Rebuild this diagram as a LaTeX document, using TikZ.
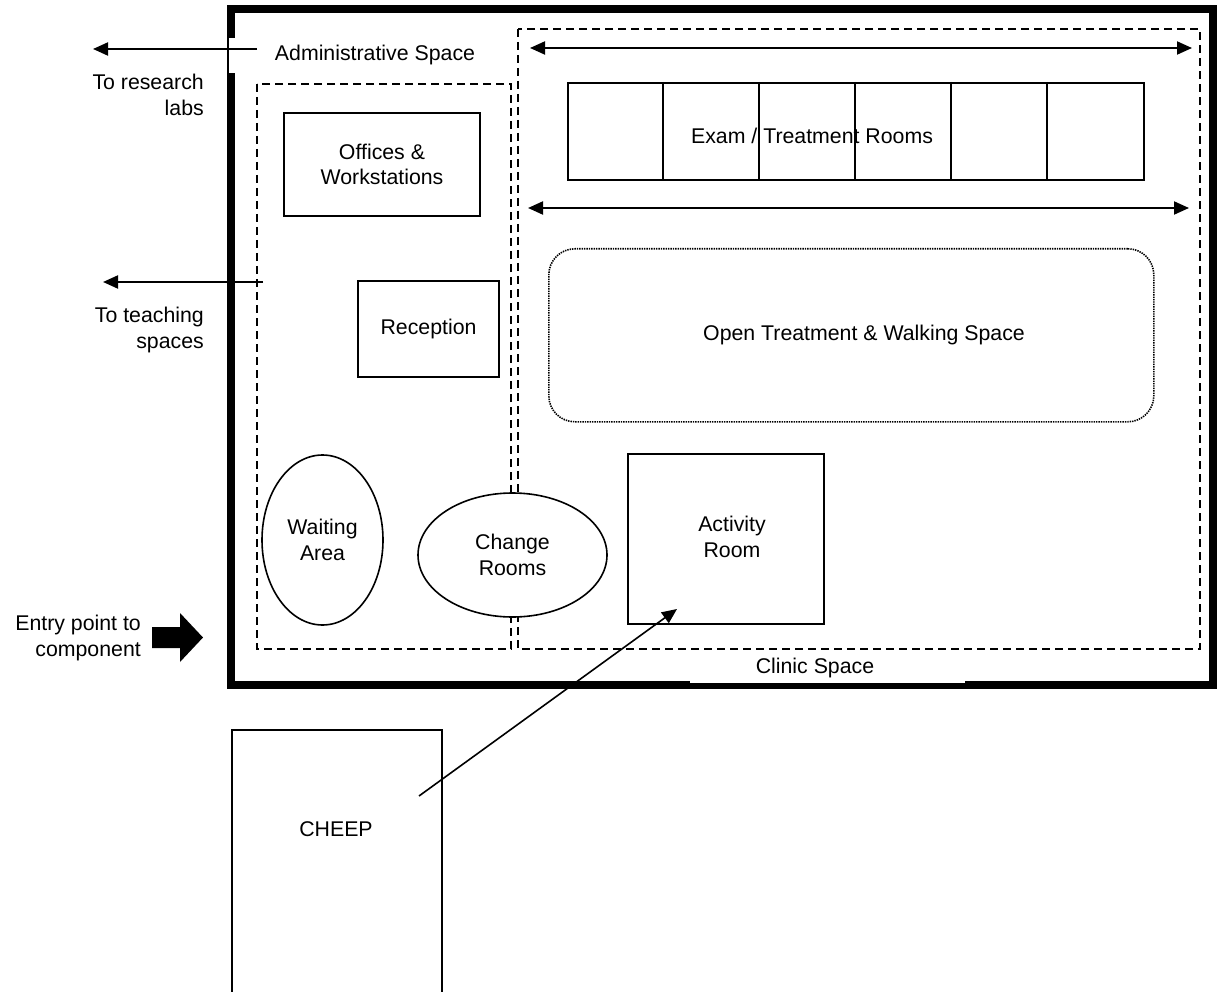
\documentclass[tikz,border=0pt]{standalone}
\usepackage{fontspec}
\setmainfont{Liberation Sans}
\usetikzlibrary{arrows.meta,shapes.geometric}
\begin{document}
\begin{tikzpicture}[x=1pt,y=-1pt,
  font=\fontsize{21.3}{25.5}\selectfont,
  box/.style={draw, line width=2pt, inner sep=0pt, anchor=north west, align=center},
  dsh/.style={draw, line width=1.8pt, dash pattern=on 8pt off 5pt},
  arr/.style={line width=2pt, -{Triangle[length=15pt,width=13pt]}},
  darr/.style={line width=2pt, {Triangle[length=15pt,width=13pt]}-{Triangle[length=15pt,width=13pt]}},
  lbl/.style={align=center, inner sep=0pt},
  rlbl/.style={align=right, inner sep=0pt, anchor=east},
  oval/.style={draw, ellipse, line width=1.6pt, fill=white, inner sep=0pt, align=center}]
\useasboundingbox (0,0) rectangle (1220,992);
% outer frame
\draw[line width=7.6pt] (230.8,9) rectangle (1213,685) ;
\fill[white] (228.6,38) rectangle (480,73);
\fill[white] (690,652) rectangle (965,682.5);
\node[lbl] (admin) at (375,55) {Administrative Space};
\node[lbl] (clinic) at (815,668) {Clinic Space};
% dashed zones
\draw[dsh] (257,84) rectangle (511,649);
\draw[dsh] (518,29) rectangle (1200,649);
% admin rooms
\node[box, minimum width=196pt, minimum height=103pt] (off) at (283,112) {Offices \&\\Workstations};
\node[box, minimum width=141pt, minimum height=96pt] (rec) at (357,280) {Reception};
\node[oval, minimum width=121pt, minimum height=170pt] (wait) at (322.5,540) {Waiting\\Area};
\node[oval, minimum width=189pt, minimum height=124pt] (change) at (512.5,555) {Change\\Rooms};
% exam rooms
\node[box, minimum width=576pt, minimum height=97pt] (exam) at (567,82) {};
\foreach \xx in {663,759,855,951,1047} \draw[line width=2pt] (\xx,82) -- (\xx,179);
\node[lbl] (examlbl) at (812,136) {Exam / Treatment Rooms};
% corridor arrows
\coordinate (ta) at (530,48);
\coordinate (tb) at (1192,48);
\coordinate (ba) at (528,208);
\coordinate (bb) at (1189,208);
\draw[darr] (ta) -- (tb);
\draw[darr] (ba) -- (bb);
% open treatment
\node[draw, line width=1.6pt, dash pattern=on 1.4pt off 1pt, rounded corners=26pt, minimum width=605pt, minimum height=173pt, anchor=north west, inner sep=0pt] (open) at (548,248) {};
\node[lbl] (openlbl) at (864,335) {Open Treatment \& Walking Space};
% activity room
\node[box, minimum width=196pt, minimum height=170pt] (act) at (627,453) {};
\node[lbl] (actlbl) at (732,537) {Activity\\Room};
% external arrows
\coordinate (rs) at (257,49);
\coordinate (re) at (93,49);
\draw[arr] (rs) -- (re);
\node[rlbl] (research) at (204,95) {To research\\labs};
\coordinate (ts) at (263,282);
\coordinate (te) at (103,282);
\draw[arr] (ts) -- (te);
\node[rlbl] (teach) at (204,330) {To teaching\\spaces};
% entry point
\fill (152,627) -- (180,627) -- (180,613) -- (203,637.5) -- (180,662) -- (180,648) -- (152,648) -- cycle;
\node[rlbl] (entry) at (141,638) {Entry point to\\component};
% CHEEP
\node[box, minimum width=210pt, minimum height=300pt] (cheep) at (231,729) {};
\node[lbl] (cheeplbl) at (336,829) {CHEEP};
\coordinate (ca) at (419,796);
\coordinate (cb) at (677,609);
\draw[arr, line width=1.6pt] (ca) -- (cb);
\end{tikzpicture}
\end{document}
